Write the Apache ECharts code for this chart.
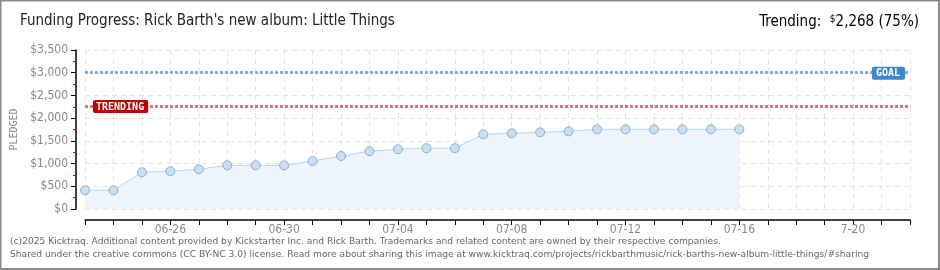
<!DOCTYPE html>
<html><head><meta charset="utf-8">
<script src="https://cdn.jsdelivr.net/npm/echarts@6/dist/echarts.min.js"></script>
<style>html,body{margin:0;padding:0;background:#fff}#c{width:940px;height:270px}</style>
</head><body><div id="c"></div>
<script>
// Categories: one per day
const categories = ['06-23','06-24','06-25','06-26','06-27','06-28','06-29','06-30',
  '07-01','07-02','07-03','07-04','07-05','07-06','07-07','07-08','07-09','07-10',
  '07-11','07-12','07-13','07-14','07-15','07-16','07-17','07-18','07-19','07-20','07-21','07-22'];
// Pledged amounts (USD) per day
const pledged = [412, 412, 808, 830, 874, 962, 962, 960, 1055, 1166, 1272, 1316, 1338, 1338,
  1644, 1666, 1688, 1710, 1754, 1754, 1754, 1754, 1754, 1754];
const goal = 3000;
const trending = 2268;
const trendingPct = 75;
const xTickLabels = ['06-26','06-30','07-04','07-08','07-12','07-16','7-20'];

const NARROW = '"DejaVu Sans Condensed", "Liberation Sans", sans-serif';
const fmtMoney = v => '$' + v.toLocaleString('en-US');
const chart = echarts.init(document.getElementById('c'));
chart.setOption({
  animation: false,
  backgroundColor: '#fff',
  grid: { left: 85, right: 30, top: 50, bottom: 61 },
  graphic: [
    { type: 'rect', shape: { x: 0.5, y: 0.5, width: 938.5, height: 268.5 }, style: { fill: 'none', stroke: '#888', lineWidth: 2 }, z: 100 },
    { type: 'text', left: 20, top: 14, style: { text: "Funding Progress: Rick Barth's new album: Little Things", fontFamily: NARROW, fontSize: 15, fill: '#222' } },
    { type: 'text', right: 21, top: 14, style: {
      text: '{a|Trending:  }{s|$}{a|' + trending.toLocaleString('en-US') + ' (' + trendingPct + '%)}',
      rich: { a: { fontFamily: NARROW, fontSize: 15, color: '#222' }, s: { fontFamily: NARROW, fontSize: 10, color: '#222', verticalAlign: 'top', padding: [0, 0, 6, 0] } } } },
    { type: 'text', left: 10, top: 237, style: { text: '(c)2025 Kicktraq. Additional content provided by Kickstarter Inc. and Rick Barth. Trademarks and related content are owned by their respective companies.', font: '9.15px "DejaVu Sans"', fill: '#666' } },
    { type: 'text', left: 10, top: 250, style: { text: 'Shared under the creative commons (CC BY-NC 3.0) license. Read more about sharing this image at www.kicktraq.com/projects/rickbarthmusic/rick-barths-new-album-little-things/#sharing', font: '9.15px "DejaVu Sans"', fill: '#666' } }
  ],
  xAxis: {
    type: 'category', data: categories, boundaryGap: false, offset: 11,
    axisLine: { onZero: false, lineStyle: { color: '#000', width: 1.5 } },
    axisTick: { show: true, interval: 0, length: 5, lineStyle: { color: '#000' } },
    axisLabel: {
      interval: i => (i - 3) % 4 === 0 && i >= 3,
      formatter: (v, i) => xTickLabels[(i - 3) / 4] || v,
      color: '#888', fontFamily: NARROW, fontSize: 12, margin: 4
    },
    splitLine: { show: true, interval: 0, lineStyle: { color: '#e3e3e3', type: [5, 4] } }
  },
  yAxis: {
    type: 'value', min: 0, max: 3500, interval: 500, offset: 9,
    name: 'PLEDGED', nameLocation: 'middle', nameGap: 50, nameRotate: 90,
    nameTextStyle: { color: '#888', fontFamily: 'DejaVu Sans Mono', fontSize: 10 },
    axisLine: { show: true, lineStyle: { color: '#000', width: 1.5 } },
    axisTick: { show: true, length: 5, lineStyle: { color: '#000' } },
    minorTick: { show: true, splitNumber: 2, length: 3, lineStyle: { color: '#d00' } },
    axisLabel: { formatter: v => fmtMoney(v), color: '#888', fontFamily: NARROW, fontSize: 12, margin: 8 },
    splitLine: { show: true, lineStyle: { color: '#e3e3e3', type: [5, 4] } }
  },
  series: [{
    type: 'line', data: pledged,
    symbol: 'circle', symbolSize: 9,
    itemStyle: { color: '#c6dff8', borderColor: '#93acc9', borderWidth: 1 },
    lineStyle: { color: '#b6d6f3', width: 1 },
    areaStyle: { color: '#eef5fd', opacity: 1 },
    markLine: {
      silent: true, symbol: 'none',
      data: [
        { yAxis: goal, lineStyle: { color: '#86acd9', type: [3, 2], width: 3 },
          label: { show: true, position: 'insideEndTop', distance: [5, -7], formatter: 'GOAL', color: '#fff',
            backgroundColor: '#3f86d2', borderRadius: 2, padding: [2, 5, 1, 4],
            fontFamily: 'DejaVu Sans Mono', fontSize: 10, fontWeight: 'bold' } },
        { yAxis: trending, lineStyle: { color: '#d9777b', type: [3, 2], width: 3 },
          label: { show: true, position: 'insideStartTop', distance: [8, -7], formatter: 'TRENDING', color: '#fff',
            backgroundColor: '#c00000', borderRadius: 2, padding: [2, 4, 1, 3],
            fontFamily: 'DejaVu Sans Mono', fontSize: 10, fontWeight: 'bold' } }
      ]
    }
  }]
});
</script></body></html>
